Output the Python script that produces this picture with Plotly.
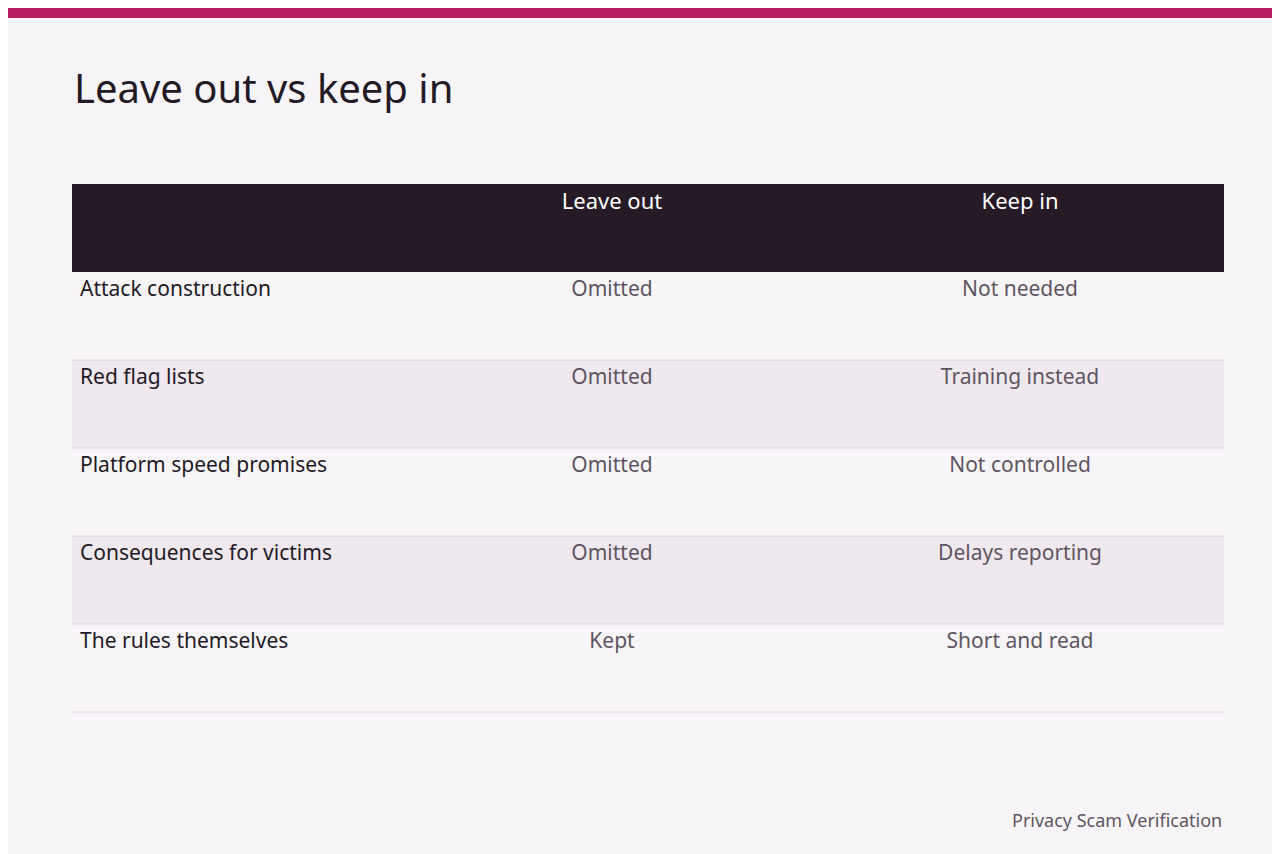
import plotly.graph_objects as go

topics = ["Attack construction", "Red flag lists", "Platform speed promises",
          "Consequences for victims", "The rules themselves"]
leave_out = ["Omitted", "Omitted", "Omitted", "Omitted", "Kept"]
keep_in = ["Not needed", "Training instead", "Not controlled",
           "Delays reporting", "Short and read"]
headers = ["", "Leave out", "Keep in"]

W, H = 1280, 854
L, R, T, B = 64, 64, 176, 150
ph = H - T - B
pw = W - L - R

def py(ypix):
    return (H - B - ypix) / ph

row_fill = ["#f7f5f8", "#efe8ee", "#f7f5f8", "#efe8ee", "#f7f5f8"]
font = "Source Sans Pro, Noto Sans, sans-serif"

fig = go.Figure(go.Table(
    columnwidth=[336, 408, 408],
    header=dict(values=headers, fill_color="#261a26", height=88,
                align=["left", "center", "center"],
                font=dict(family=font, size=22, color="white"),
                line=dict(width=0)),
    cells=dict(values=[topics, leave_out, keep_in],
               fill_color=[row_fill] * 3, height=88,
               align=["left", "center", "center"],
               font=dict(family=font, size=21,
                         color=["#231a26", "#5f5562", "#5f5562"]),
               line=dict(width=0)),
    domain=dict(x=[0, 1], y=[0, 1]),
))

shapes = [dict(type="rect", xref="paper", yref="paper",
               x0=-L / pw, x1=1 + R / pw, y0=py(10), y1=py(0),
               fillcolor="#b81d62", line=dict(width=0))]
for yp in [352, 440, 528, 616, 704]:
    shapes.append(dict(type="line", xref="paper", yref="paper",
                       x0=0, x1=1, y0=py(yp), y1=py(yp),
                       line=dict(color="#dcd6dc", width=1)))

fig.update_layout(
    width=W, height=H,
    margin=dict(l=L, r=R, t=T, b=B),
    paper_bgcolor="#f7f5f8", plot_bgcolor="#f7f5f8",
    shapes=shapes,
    annotations=[
        dict(text="Leave out vs keep in", xref="paper", yref="paper",
             x=0, y=py(80), xanchor="left", yanchor="middle", showarrow=False,
             font=dict(family=font, size=40, color="#231a26")),
        dict(text="Privacy Scam Verification", xref="paper", yref="paper",
             x=1, y=py(812), xanchor="right", yanchor="middle", showarrow=False,
             font=dict(family=font, size=18, color="#5f5562")),
    ],
)

fig.write_html("out.html")
